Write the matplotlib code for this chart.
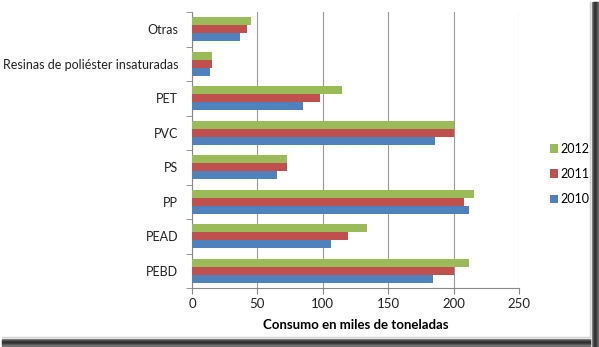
#!/usr/bin/env python3

import numpy as np
import matplotlib
matplotlib.use('Agg')
from matplotlib import pyplot as plt
from matplotlib.patches import Rectangle

categories = ['PEBD', 'PEAD', 'PP', 'PS', 'PVC', 'PET',
              'Resinas de poliéster insaturadas', 'Otras']
years = ['2010', '2011', '2012']
v2010 = [184, 106, 212, 65, 186, 85, 14, 37]
v2011 = [200, 119, 208, 73, 200, 98, 15.5, 42]
v2012 = [212, 133.5, 215.5, 72.5, 200, 115, 15, 45]
xticks = [0, 50, 100, 150, 200, 250]
colors = ['#4F81BD', '#C0504D', '#9BBB59']

plt.rcParams['font.family'] = ['Lato', 'DejaVu Sans']

fig = plt.figure(figsize=(5.99, 3.47), dpi=100)
ax = fig.add_axes([192/599, 1 - 288/347, 327/599, 276/347])

y = np.arange(len(categories))
h = 0.23
for i, (vals, c, lab) in enumerate(zip([v2010, v2011, v2012], colors, years)):
    ax.barh(y + (i - 1) * h, vals, height=h, color=c, label=lab, zorder=3)

ax.set_xlim(0, 250)
ax.set_ylim(-0.5, len(categories) - 0.5)
ax.set_xticks(xticks)
ax.set_yticks(y)
ax.set_yticklabels(categories)
ax.set_yticks(np.arange(-0.5, len(categories)), minor=True)
ax.tick_params(axis='y', which='major', length=0, labelsize=9, pad=10, labelcolor='#222222')
ax.tick_params(axis='y', which='minor', length=4, color='#888888')
ax.tick_params(axis='x', length=4, color='#888888', labelsize=9.5, labelcolor='#222222')
ax.grid(axis='x', color='#9a9a9a', linewidth=0.8, zorder=0)
for s in ['top', 'right']:
    ax.spines[s].set_visible(False)
for s in ['left', 'bottom']:
    ax.spines[s].set_color('#888888')
ax.set_xlabel('Consumo en miles de toneladas', fontsize=9.5, fontweight='bold', labelpad=6)

handles, labels = ax.get_legend_handles_labels()
fig.legend(handles[::-1], labels[::-1], loc='center left', bbox_to_anchor=(550/599, 1 - 174/347),
           frameon=False, fontsize=9, handlelength=0.65, handleheight=0.65,
           handletextpad=0.2, labelspacing=1.05, borderaxespad=0, borderpad=0)

# frame shadow on right and bottom
shades = ['#c8c8c8', '#ffffff', '#808080', '#585858', '#3a3a3a', '#303030', '#3a3a3a', '#505050', '#707070']
W, H = 599, 347
for k, sc in enumerate(shades):
    fig.patches.append(Rectangle(((590 + k) / W, 0), 1 / W, (H - 2) / H, transform=fig.transFigure,
                                 color=sc, zorder=10))
    fig.patches.append(Rectangle((2 / W, (H - 337 - k - 1) / H), (590 - 2) / W, 1 / H,
                                 transform=fig.transFigure, color=sc, zorder=10))

fig.savefig('out.png', dpi=100)
